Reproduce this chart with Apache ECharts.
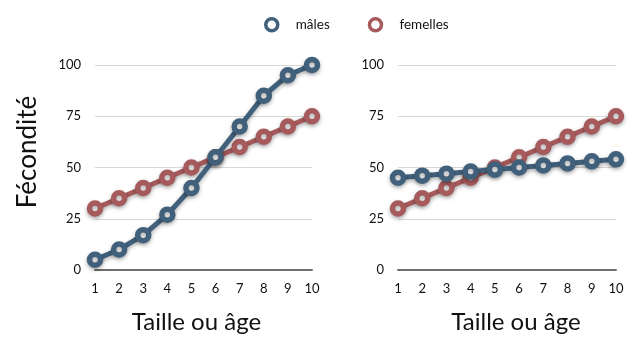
<!DOCTYPE html>
<html>
<head>
<meta charset="utf-8">
<script src="https://cdn.jsdelivr.net/npm/echarts@6/dist/echarts.min.js"></script>
<style>
  html, body { margin: 0; padding: 0; background: #fff; }
  #chart { width: 632px; height: 339px; }
</style>
</head>
<body>
<div id="chart"></div>
<script>
var categories = ['1', '2', '3', '4', '5', '6', '7', '8', '9', '10'];
var yTicks = [0, 25, 50, 75, 100];
var malesLeft = [5, 10, 17, 27, 40, 55, 70, 85, 95, 100];
var femellesLeft = [30, 35, 40, 45, 50, 55, 60, 65, 70, 75];
var malesRight = [45, 46, 47, 48, 49, 50, 51, 52, 53, 54];
var femellesRight = [30, 35, 40, 45, 50, 55, 60, 65, 70, 75];

var blue = '#41607b';
var red = '#a65a5c';
var font = 'Lato';

var myChart = echarts.init(document.getElementById('chart'));

function xAxisOf(idx, pad) {
    return {
        type: 'category',
        gridIndex: idx,
        data: categories,
        boundaryGap: false,
        name: 'Taille ou âge',
        nameLocation: 'middle',
        nameGap: 40,
        nameTextStyle: { fontFamily: font, fontSize: 24, color: '#111', padding: pad },
        axisLine: { show: true, lineStyle: { color: '#6e6e6e', width: 2 } },
        axisTick: { show: false },
        axisLabel: { fontFamily: font, fontSize: 13, color: '#111', margin: 12 },
        splitLine: { show: false }
    };
}

function yAxisOf(idx) {
    return {
        type: 'value',
        gridIndex: idx,
        min: yTicks[0],
        max: yTicks[yTicks.length - 1],
        interval: 25,
        axisLine: { show: false },
        axisTick: { show: false },
        axisLabel: { fontFamily: font, fontSize: 13, color: '#111', margin: 14 },
        splitLine: { show: true, lineStyle: { color: '#d8d8d8', width: 1 } }
    };
}

function seriesOf(name, color, data, idx) {
    return {
        name: name,
        type: 'line',
        xAxisIndex: idx,
        yAxisIndex: idx,
        data: data,
        symbol: 'circle',
        symbolSize: 11,
        showAllSymbol: true,
        lineStyle: {
            color: color, width: 5,
            shadowColor: 'rgba(0,0,0,0.3)', shadowBlur: 4, shadowOffsetY: 2
        },
        itemStyle: {
            color: '#fff', borderColor: color, borderWidth: 5.5,
            shadowColor: 'rgba(0,0,0,0.3)', shadowBlur: 4, shadowOffsetY: 2
        },
        emphasis: { disabled: true },
        z: name === 'mâles' ? 3 : 2
    };
}

var option = {
    animation: false,
    graphic: [{
        type: 'text',
        x: 28,
        y: 152,
        rotation: Math.PI / 2,
        style: {
            text: 'Fécondité',
            font: '26px ' + font,
            fill: '#111',
            align: 'center',
            verticalAlign: 'middle'
        }
    }],
    legend: {
        top: 12,
        left: 259,
        itemGap: 38,
        itemWidth: 14,
        itemHeight: 12,
        textStyle: { fontFamily: font, fontSize: 13.5, color: '#111', padding: [0, 0, 0, 12] },
        data: [
            { name: 'mâles', icon: 'circle', itemStyle: { color: '#fff', borderColor: blue, borderWidth: 3.5 } },
            { name: 'femelles', icon: 'circle', itemStyle: { color: '#fff', borderColor: red, borderWidth: 3.5 } }
        ]
    },
    grid: [
        { left: 95, width: 217, top: 65, height: 208, containLabel: false },
        { left: 398, width: 218, top: 65, height: 208, containLabel: false }
    ],
    xAxis: [xAxisOf(0, [0, 14, 0, 0]), xAxisOf(1, [0, 0, 0, 18])],
    yAxis: [yAxisOf(0), yAxisOf(1)],
    series: [
        seriesOf('femelles', red, femellesLeft, 0),
        seriesOf('mâles', blue, malesLeft, 0),
        seriesOf('femelles', red, femellesRight, 1),
        seriesOf('mâles', blue, malesRight, 1)
    ]
};

if (option && typeof option === "object") {
    myChart.setOption(option, true);
}
</script>
</body>
</html>
